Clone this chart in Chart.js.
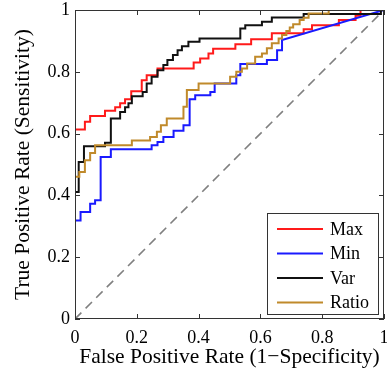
<!DOCTYPE html>
<html>
<head>
<meta charset="utf-8">
<script src="https://cdn.jsdelivr.net/npm/chart.js@4/dist/chart.umd.min.js"></script>
<style>
  html, body { margin: 0; padding: 0; background: #fff; }
  #wrap { width: 387px; height: 371px; }
</style>
</head>
<body>
<div id="wrap"><canvas id="rocChart"></canvas></div>
<script>
// axis ticks
var tickValues = [0, 0.2, 0.4, 0.6, 0.8, 1];
var tickLabels = ['0', '0.2', '0.4', '0.6', '0.8', '1'];

// series names and colours
var seriesNames = ['Max', 'Min', 'Var', 'Ratio'];
var seriesColors = ['#ff1a1a', '#1a1aff', '#111111', '#c08a2b'];

// ROC steps: at each fpr the curve rises to tpr
var maxFpr = [0, 0.032, 0.049, 0.097, 0.130, 0.146, 0.162, 0.182, 0.216, 0.232, 0.267, 0.384, 0.405, 0.432, 0.447, 0.519, 0.57, 0.637, 0.74, 0.767, 0.854, 0.908, 0.924];
var maxTpr = [0.613, 0.638, 0.657, 0.674, 0.685, 0.698, 0.711, 0.737, 0.773, 0.789, 0.811, 0.83, 0.843, 0.859, 0.875, 0.889, 0.905, 0.925, 0.938, 0.951, 0.968, 0.981, 1];

var minFpr = [0, 0.018, 0.049, 0.065, 0.083, 0.116, 0.248, 0.267, 0.286, 0.319, 0.351, 0.371, 0.389, 0.438, 0.452, 0.522, 0.535, 0.621, 0.654, 0.67];
var minTpr = [0.319, 0.346, 0.373, 0.384, 0.524, 0.549, 0.562, 0.573, 0.589, 0.609, 0.627, 0.711, 0.724, 0.735, 0.762, 0.789, 0.825, 0.838, 0.87, 0.903];

var varFpr = [0, 0.012, 0.029, 0.097, 0.116, 0.146, 0.162, 0.173, 0.184, 0.219, 0.232, 0.248, 0.267, 0.286, 0.299, 0.317, 0.332, 0.346, 0.367, 0.403, 0.535, 0.551, 0.605, 0.637, 0.74, 0.99];
var varTpr = [0.411, 0.508, 0.559, 0.57, 0.649, 0.67, 0.685, 0.698, 0.721, 0.735, 0.762, 0.784, 0.805, 0.822, 0.838, 0.854, 0.87, 0.883, 0.897, 0.908, 0.94, 0.951, 0.962, 0.976, 0.987, 1];

var ratioFpr = [0, 0.014, 0.032, 0.049, 0.065, 0.184, 0.243, 0.265, 0.278, 0.297, 0.351, 0.362, 0.4, 0.502, 0.522, 0.54, 0.557, 0.583, 0.605, 0.621, 0.637, 0.659, 0.67, 0.684, 0.695, 0.706, 0.727, 0.74, 0.756, 0.821];
var ratioTpr = [0.46, 0.476, 0.514, 0.537, 0.562, 0.578, 0.589, 0.606, 0.627, 0.649, 0.687, 0.741, 0.762, 0.784, 0.8, 0.811, 0.827, 0.849, 0.859, 0.876, 0.892, 0.908, 0.919, 0.932, 0.943, 0.954, 0.968, 0.975, 0.989, 1];

// chance line
var chanceX = [0, 1];
var chanceY = [0, 1];

// horizontal then vertical for every step, then straight to (1,1)
function stepPoints(fpr, tpr) {
    var pts = [{x: 0, y: 0}];
    var prev = 0;
    for (var i = 0; i < fpr.length; i++) {
        pts.push({x: fpr[i], y: prev});
        pts.push({x: fpr[i], y: tpr[i]});
        prev = tpr[i];
    }
    pts.push({x: 1, y: 1});
    return pts;
}

var serif = "'Liberation Serif', 'DejaVu Serif', serif";

// box, inward ticks and legend in the MATLAB style
var boxPlugin = {
    id: 'boxPlugin',
    afterDraw: function(chart) {
        var ctx = chart.ctx;
        var a = chart.chartArea;
        var xs = chart.scales.x, ys = chart.scales.y;
        ctx.save();
        ctx.strokeStyle = '#333';
        ctx.lineWidth = 1;
        ctx.strokeRect(a.left + 0.5, a.top + 0.5, a.right - a.left - 1, a.bottom - a.top - 1);
        ctx.beginPath();
        tickValues.forEach(function(v) {
            var px = Math.round(xs.getPixelForValue(v)) + 0.5;
            ctx.moveTo(px, a.bottom); ctx.lineTo(px, a.bottom - 5);
            ctx.moveTo(px, a.top); ctx.lineTo(px, a.top + 5);
            var py = Math.round(ys.getPixelForValue(v)) + 0.5;
            ctx.moveTo(a.left, py); ctx.lineTo(a.left + 5, py);
            ctx.moveTo(a.right, py); ctx.lineTo(a.right - 5, py);
        });
        ctx.stroke();

        // legend
        var w = 111, h = 101;
        var lx = a.right - 6 - w, ly = a.bottom - 5 - h;
        ctx.fillStyle = '#fff';
        ctx.fillRect(lx, ly, w, h);
        ctx.strokeStyle = '#333';
        ctx.strokeRect(lx + 0.5, ly + 0.5, w, h);
        ctx.font = '18px ' + serif;
        ctx.textBaseline = 'middle';
        seriesNames.forEach(function(name, i) {
            var y = ly + 16 + i * 24.5;
            ctx.strokeStyle = seriesColors[i];
            ctx.lineWidth = 2;
            ctx.beginPath();
            ctx.moveTo(lx + 10, y); ctx.lineTo(lx + 56, y);
            ctx.stroke();
            ctx.fillStyle = '#000';
            ctx.fillText(name, lx + 63, y + 1);
        });
        ctx.restore();
    }
};

var allFpr = [maxFpr, minFpr, varFpr, ratioFpr];
var allTpr = [maxTpr, minTpr, varTpr, ratioTpr];

var datasets = seriesNames.map(function(name, i) {
    return {
        label: name,
        data: stepPoints(allFpr[i], allTpr[i]),
        borderColor: seriesColors[i],
        borderWidth: 2,
        pointRadius: 0,
        tension: 0,
        fill: false,
        order: 4 - i
    };
});
datasets.push({
    label: 'chance',
    data: chanceX.map(function(x, i) { return {x: x, y: chanceY[i]}; }),
    borderColor: '#808080',
    borderWidth: 1.6,
    borderDash: [9, 6],
    pointRadius: 0,
    fill: false,
    order: 10
});

var ctx = document.getElementById('rocChart').getContext('2d');
var myChart = new Chart(ctx, {
    type: 'line',
    data: { datasets: datasets },
    options: {
        responsive: true,
        maintainAspectRatio: false,
        animation: false,
        layout: { padding: { top: 10, right: 3, left: 0, bottom: 0 } },
        plugins: {
            legend: { display: false },
            tooltip: { enabled: false }
        },
        scales: {
            x: {
                type: 'linear',
                min: 0,
                max: 1,
                afterFit: function(scale) {
                    scale.height = 52;
                    scale.paddingLeft = 0;
                    scale.paddingRight = 0;
                },
                afterBuildTicks: function(scale) {
                    scale.ticks = tickValues.map(function(v) { return {value: v}; });
                },
                grid: { display: false, drawTicks: false },
                border: { display: false },
                ticks: {
                    padding: 8,
                    color: '#000',
                    font: { family: serif, size: 18 },
                    maxRotation: 0,
                    callback: function(v) { return tickLabels[tickValues.indexOf(v)]; }
                },
                title: {
                    display: true,
                    text: 'False Positive Rate (1\u2212Specificity)',
                    color: '#000',
                    font: { family: serif, size: 21.5 },
                    padding: { top: 0, bottom: 1 }
                }
            },
            y: {
                type: 'linear',
                min: 0,
                max: 1,
                afterFit: function(scale) {
                    scale.width = 75;
                    scale.paddingTop = 0;
                    scale.paddingBottom = 0;
                },
                afterBuildTicks: function(scale) {
                    scale.ticks = tickValues.map(function(v) { return {value: v}; });
                },
                grid: { display: false, drawTicks: false },
                border: { display: false },
                ticks: {
                    padding: 5,
                    color: '#000',
                    font: { family: serif, size: 18 },
                    callback: function(v) { return tickLabels[tickValues.indexOf(v)]; }
                },
                title: {
                    display: true,
                    text: 'True Positive Rate (Sensitivity)',
                    color: '#000',
                    font: { family: serif, size: 21.5 },
                    padding: { top: 10, bottom: 0 }
                }
            }
        }
    },
    plugins: [boxPlugin]
});
</script>
</body>
</html>
